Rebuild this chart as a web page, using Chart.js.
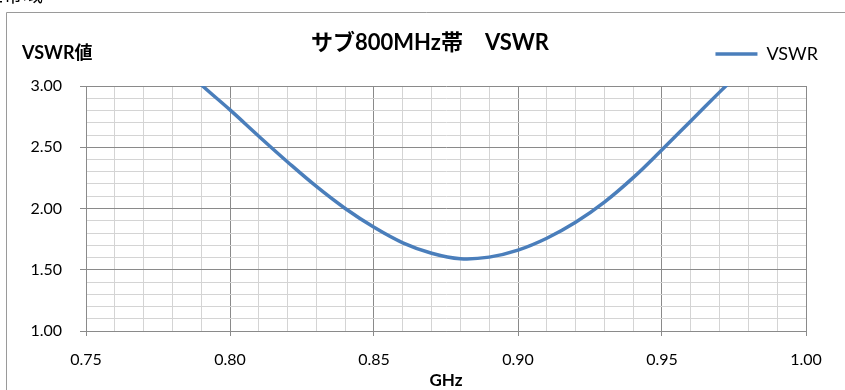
<!DOCTYPE html>
<html>
<head>
<meta charset="utf-8">
<script src="https://cdn.jsdelivr.net/npm/chart.js@4"></script>
<style>
  html, body { margin: 0; padding: 0; background: #ffffff; }
  #wrap { width: 845px; height: 390px; position: relative; }
</style>
</head>
<body>
<div id="wrap"><canvas id="c"></canvas></div>
<script>
const chartTitle = 'サブ800MHz帯　VSWR';
const yAxisTitle = 'VSWR値';
const xAxisTitle = 'GHz';
const seriesName = 'VSWR';
const frequencies = [0.78, 0.79, 0.80, 0.81, 0.82, 0.83, 0.84, 0.85, 0.86, 0.87, 0.88, 0.89, 0.90, 0.91, 0.92, 0.93, 0.94, 0.95, 0.96, 0.97, 0.98];
const vswrValues  = [3.23, 3.01, 2.805, 2.59, 2.38, 2.18, 2.00, 1.847, 1.72, 1.635, 1.59, 1.603, 1.66, 1.757, 1.887, 2.052, 2.252, 2.48, 2.715, 2.95, 3.18];
const xMin = 0.75, xMax = 1.00, xMinorStep = 0.01, xMajorStep = 0.05;
const yMin = 1.00, yMax = 3.00, yMinorStep = 0.1, yMajorStep = 0.5;

const FONT = "Lato, 'Noto Sans CJK JP', sans-serif";
const BLUE = '#4a7ebb';
const MAJOR = '#8a8a8a';
const MINOR = '#d4d4d4';

function isMultiple(v, step) {
  const r = v / step;
  return Math.abs(r - Math.round(r)) < 1e-6;
}

const points = frequencies.map((f, i) => ({ x: f, y: vswrValues[i] }));

const framePlugin = {
  id: 'frame',
  beforeDraw(chart) {
    const ctx = chart.ctx;
    ctx.save();
    ctx.fillStyle = '#ffffff';
    ctx.fillRect(0, 0, chart.width, chart.height);
    ctx.strokeStyle = '#9a9a9a';
    ctx.lineWidth = 1;
    ctx.beginPath();
    ctx.moveTo(6.5, chart.height + 5);
    ctx.lineTo(6.5, 12.5);
    ctx.lineTo(chart.width + 5, 12.5);
    ctx.stroke();
    ctx.fillStyle = '#000000';
    ctx.font = "20px 'Noto Sans CJK JP'";
    ctx.textBaseline = 'alphabetic';
    ctx.textAlign = 'left';
    ctx.fillText('正帯域', -17, 2);
    ctx.restore();
  }
};

new Chart(document.getElementById('c'), {
  type: 'line',
  data: {
    datasets: [{
      label: seriesName,
      data: points,
      borderColor: BLUE,
      backgroundColor: BLUE,
      borderWidth: 3.5,
      pointRadius: 0,
      pointHoverRadius: 0,
      tension: 0.4,
      fill: false,
      clip: 0
    }]
  },
  options: {
    responsive: true,
    maintainAspectRatio: false,
    animation: false,
    events: [],
    layout: { padding: { left: 22, right: 7, top: 0, bottom: 0 } },
    plugins: {
      tooltip: { enabled: false },
      title: {
        display: true,
        text: chartTitle,
        color: '#000000',
        font: { family: FONT, size: 22, weight: 'bold' },
        padding: { top: 29.8, bottom: -31.2 }
      },
      legend: {
        display: true,
        position: 'top',
        align: 'end',
        weight: 1800,
        labels: {
          color: '#000000',
          font: { family: FONT, size: 18 },
          usePointStyle: true,
          pointStyle: 'line',
          pointStyleWidth: 42,
          padding: 20
        }
      },
      subtitle: {
        display: true,
        text: yAxisTitle,
        align: 'start',
        color: '#000000',
        font: { family: FONT, size: 18, weight: 'bold' },
        padding: { top: -30.8, bottom: 22.2 }
      }
    },
    scales: {
      x: {
        type: 'linear',
        min: xMin,
        max: xMax,
        afterFit(s) { s.height = 59; },
        border: { color: MAJOR, width: 1 },
        grid: {
          color: (c) => (c.tick && isMultiple(c.tick.value, xMajorStep)) ? MAJOR : MINOR,
          tickColor: (c) => (c.tick && isMultiple(c.tick.value, xMajorStep)) ? MAJOR : 'rgba(0,0,0,0)',
          tickLength: 5,
          lineWidth: 1
        },
        ticks: {
          stepSize: xMinorStep,
          autoSkip: false,
          maxRotation: 0,
          minRotation: 0,
          padding: 14,
          color: '#000000',
          font: { family: FONT, size: 16 },
          callback: (v) => isMultiple(v, xMajorStep) ? Number(v).toFixed(2) : ''
        },
        title: {
          display: true,
          text: xAxisTitle,
          color: '#000000',
          font: { family: FONT, size: 17, weight: 'bold' },
          padding: { top: 0, bottom: -1 }
        }
      },
      y: {
        type: 'linear',
        position: 'left',
        min: yMin,
        max: yMax,
        afterFit(s) { s.width = 64; },
        border: { color: MAJOR, width: 1 },
        grid: {
          color: (c) => (c.tick && isMultiple(c.tick.value, yMajorStep)) ? MAJOR : MINOR,
          tickColor: (c) => (c.tick && isMultiple(c.tick.value, yMajorStep)) ? MAJOR : 'rgba(0,0,0,0)',
          tickLength: 6,
          lineWidth: 1
        },
        ticks: {
          stepSize: yMinorStep,
          autoSkip: false,
          padding: 18,
          color: '#000000',
          font: { family: FONT, size: 16 },
          callback: (v) => isMultiple(v, yMajorStep) ? Number(v).toFixed(2) : ''
        }
      },
      y2: {
        type: 'linear',
        position: 'right',
        display: true,
        afterFit(s) { s.width = 32; },
        border: { display: false },
        grid: { display: false, drawTicks: false },
        ticks: { display: false }
      }
    }
  },
  plugins: [framePlugin]
});
</script>
</body>
</html>
